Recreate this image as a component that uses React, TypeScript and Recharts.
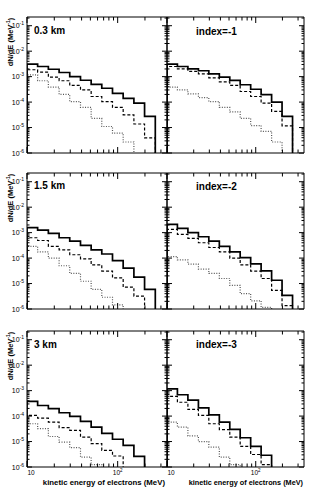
import React from 'react';
import { LineChart, Line, XAxis, YAxis } from 'recharts';

// ---------------- data ----------------
const BIN_EDGES = [10, 13.1, 17.2, 22.6, 29.6, 38.9, 51.0, 66.8, 87.7, 115, 151, 198, 260];
const X_DOMAIN: [number, number] = [10, 350];
const Y_DOMAIN: [number, number] = [1e-6, 0.22];
const X_MAJOR_TICKS = [10, 100];
const X_MAJOR_EXP = ['', '2'];
const X_MINOR_TICKS = [20, 30, 40, 50, 60, 70, 80, 90, 200, 300];
const Y_MAJOR_TICKS = [1e-6, 1e-5, 1e-4, 1e-3, 1e-2, 1e-1];
const Y_MAJOR_EXP = ['-6', '-5', '-4', '-3', '-2', '-1'];
const Y_MINOR_MANTISSA = [2, 3, 4, 5, 6, 7, 8, 9];

const PANEL_LABELS = ['0.3 km', 'index=-1', '1.5 km', 'index=-2', '3 km', 'index=-3'];
const Y_TITLE = 'dN/dE (MeV';
const Y_TITLE_EXP = '-1';
const X_TITLE = 'kinetic energy of electrons (MeV)';

const SOLID_03KM = [3.1e-3, 2.5e-3, 1.95e-3, 1.45e-3, 1.0e-3, 7.2e-4, 5.0e-4, 3.5e-4, 2.2e-4, 1.4e-4, 9.1e-5, 2.75e-5];
const DASHED_03KM = [1.86e-3, 1.51e-3, 9.5e-4, 6.9e-4, 4.5e-4, 3.0e-4, 1.66e-4, 1.05e-4, 6.2e-5, 3.16e-5, 1.38e-5, 3.9e-6];
const DOTTED_03KM = [1.17e-3, 6.9e-4, 3.9e-4, 2.0e-4, 1.05e-4, 6.2e-5, 2.3e-5, 1.1e-5, 6.0e-6, 2.7e-6, 0, 0];

const SOLID_IDX1 = [3.1e-3, 2.5e-3, 2.0e-3, 1.7e-3, 1.29e-3, 9.5e-4, 7.1e-4, 4.8e-4, 3.2e-4, 1.95e-4, 1.0e-4, 2.75e-5];
const DASHED_IDX1 = [2.5e-3, 2.0e-3, 1.6e-3, 1.29e-3, 8.9e-4, 6.2e-4, 4.5e-4, 2.6e-4, 1.66e-4, 9.1e-5, 4.3e-5, 1.17e-5];
const DOTTED_IDX1 = [3.9e-4, 3.0e-4, 2.1e-4, 1.5e-4, 1.05e-4, 6.2e-5, 4.1e-5, 2.3e-5, 1.2e-5, 7.1e-6, 2.7e-6, 0];

const SOLID_15KM = [1.58e-3, 1.26e-3, 9.3e-4, 6.3e-4, 4.6e-4, 3.16e-4, 2.1e-4, 1.45e-4, 7.9e-5, 4.0e-5, 1.8e-5, 5.9e-6];
const DASHED_15KM = [6.3e-4, 4.9e-4, 2.9e-4, 2.1e-4, 1.35e-4, 9.3e-5, 5.4e-5, 3.1e-5, 1.66e-5, 7.2e-6, 3.2e-6, 0];
const DOTTED_15KM = [2.9e-4, 1.74e-4, 1.0e-4, 5.0e-5, 2.5e-5, 1.23e-5, 5.9e-6, 2.9e-6, 1.45e-6, 0, 0, 0];

const SOLID_IDX2 = [2.1e-3, 1.48e-3, 1.0e-3, 6.9e-4, 4.6e-4, 2.9e-4, 1.74e-4, 1.05e-4, 5.9e-5, 3.16e-5, 1.35e-5, 3.4e-6];
const DASHED_IDX2 = [1.35e-3, 8.5e-4, 5.9e-4, 4.0e-4, 2.6e-4, 1.74e-4, 1.0e-4, 5.4e-5, 3.1e-5, 1.58e-5, 5.4e-6, 1.35e-6];
const DOTTED_IDX2 = [1.15e-4, 8.5e-5, 5.8e-5, 3.7e-5, 2.5e-5, 1.58e-5, 8.5e-6, 4.0e-6, 2.1e-6, 1.15e-6, 0, 0];

const SOLID_3KM = [3.8e-4, 2.6e-4, 1.95e-4, 1.35e-4, 9.8e-5, 6.2e-5, 3.7e-5, 2.1e-5, 1.23e-5, 7.1e-6, 2.6e-6, 0];
const DASHED_3KM = [1.07e-4, 8.3e-5, 5.8e-5, 3.5e-5, 2.75e-5, 1.5e-5, 8.3e-6, 4.5e-6, 2.7e-6, 0, 0, 0];
const DOTTED_3KM = [5.0e-5, 3.2e-5, 1.58e-5, 9.5e-6, 5.8e-6, 2.45e-6, 1.23e-6, 0, 0, 0, 0, 0];

const SOLID_IDX3 = [1.17e-3, 6.9e-4, 4.2e-4, 2.1e-4, 1.12e-4, 5.8e-5, 3.0e-5, 1.41e-5, 6.5e-6, 2.9e-6, 0, 0];
const DASHED_IDX3 = [5.9e-4, 3.5e-4, 1.82e-4, 1.07e-4, 5.0e-5, 2.95e-5, 1.5e-5, 6.5e-6, 3.1e-6, 1.23e-6, 0, 0];
const DOTTED_IDX3 = [5.8e-5, 3.7e-5, 1.66e-5, 1.0e-5, 6.0e-6, 2.45e-6, 1.23e-6, 0, 0, 0, 0, 0];

const PANEL_SERIES = [
  [SOLID_03KM, DASHED_03KM, DOTTED_03KM],
  [SOLID_IDX1, DASHED_IDX1, DOTTED_IDX1],
  [SOLID_15KM, DASHED_15KM, DOTTED_15KM],
  [SOLID_IDX2, DASHED_IDX2, DOTTED_IDX2],
  [SOLID_3KM, DASHED_3KM, DOTTED_3KM],
  [SOLID_IDX3, DASHED_IDX3, DOTTED_IDX3],
];

// ---------------- layout ----------------
const PAGE_W = 332;
const PAGE_H = 491;
const ROW_TOPS = [17, 173, 331];
const PLOT_H = 136;
const COL_LEFTS = [27, 167];
const COL_WIDTHS = [140, 137];
const FONT = '"Liberation Sans", Arial, Helvetica, sans-serif';

const FLOOR = 1e-9;
const NB = BIN_EDGES.length - 1;
const X_TICKS = [...X_MAJOR_TICKS, ...X_MINOR_TICKS];
const Y_MINOR_TICKS = Y_MAJOR_TICKS.flatMap((d) => Y_MINOR_MANTISSA.map((m) => m * d)).filter((v) => v < Y_DOMAIN[1]);
const Y_TICKS = [...Y_MAJOR_TICKS, ...Y_MINOR_TICKS];

function histRows(solid: number[], dashed: number[], dotted: number[]) {
  const v = (a: number[], i: number) => (a[i] > 0 ? a[i] : FLOOR);
  const rows: any[] = [{ x: BIN_EDGES[0], s: FLOOR, d: FLOOR, t: FLOOR }];
  for (let i = 0; i < NB; i++) rows.push({ x: BIN_EDGES[i], s: v(solid, i), d: v(dashed, i), t: v(dotted, i) });
  rows.push({ x: BIN_EDGES[NB], s: v(solid, NB - 1), d: v(dashed, NB - 1), t: v(dotted, NB - 1) });
  rows.push({ x: BIN_EDGES[NB], s: FLOOR, d: FLOOR, t: FLOOR });
  return rows;
}

function makeXTick(side: 'bottom' | 'top', showLabels: boolean) {
  return (props: any) => {
    const { x, y, payload } = props;
    const v = payload.value;
    const li = X_MAJOR_TICKS.indexOf(v);
    const major = li >= 0;
    const len = major ? 6 : 3.5;
    const dir = side === 'bottom' ? -1 : 1;
    const anchor = li === 0 ? 'start' : 'middle';
    return (
      <g>
        <line x1={x} y1={y} x2={x} y2={y + dir * len} stroke="#000" strokeWidth={1} />
        {showLabels && major && side === 'bottom' && (
          <text x={li === 0 ? x + 0.5 : x} y={y + 7.5} textAnchor={anchor} fontSize={6.5} fontFamily={FONT} fill="#000">
            10
            {X_MAJOR_EXP[li] ? (
              <tspan dy={-2.5} fontSize={4.5}>
                {X_MAJOR_EXP[li]}
              </tspan>
            ) : null}
          </text>
        )}
      </g>
    );
  };
}

function makeYTick(side: 'left' | 'right', showLabels: boolean) {
  return (props: any) => {
    const { x, y, payload } = props;
    const v = payload.value;
    const li = Y_MAJOR_TICKS.indexOf(v);
    const major = li >= 0;
    const len = major ? 5 : 2.5;
    const dir = side === 'left' ? 1 : -1;
    return (
      <g>
        <line x1={x} y1={y} x2={x + dir * len} y2={y} stroke="#000" strokeWidth={1} />
        {showLabels && major && side === 'left' && (
          <text x={x - 3} y={y + 2.5} textAnchor="end" fontSize={7} fontFamily={FONT} fill="#000">
            10
            <tspan dy={-3} fontSize={5}>
              {Y_MAJOR_EXP[li]}
            </tspan>
          </text>
        )}
      </g>
    );
  };
}

function Panel({ index }: { index: number }) {
  const row = Math.floor(index / 2);
  const col = index % 2;
  const [solid, dashed, dotted] = PANEL_SERIES[index];
  const data = histRows(solid, dashed, dotted);
  const left = COL_LEFTS[col];
  const top = ROW_TOPS[row];
  const margin = {
    left,
    right: PAGE_W - left - COL_WIDTHS[col],
    top,
    bottom: PAGE_H - top - PLOT_H,
  };
  const axisLine = { stroke: '#000', strokeWidth: 1 };
  return (
    <div style={{ position: 'absolute', left: 0, top: 0 }}>
      <LineChart width={PAGE_W} height={PAGE_H} data={data} margin={margin}>
        <XAxis
          xAxisId="b"
          dataKey="x"
          type="number"
          scale="log"
          domain={X_DOMAIN}
          allowDataOverflow
          ticks={X_TICKS}
          interval={0}
          orientation="bottom"
          mirror
          tickSize={0}
          tickMargin={0}
          tickLine={false}
          axisLine={axisLine}
          tick={makeXTick('bottom', row === 2)}
        />
        <XAxis
          xAxisId="t"
          dataKey="x"
          type="number"
          scale="log"
          domain={X_DOMAIN}
          allowDataOverflow
          ticks={X_TICKS}
          interval={0}
          orientation="top"
          mirror
          tickSize={0}
          tickMargin={0}
          tickLine={false}
          axisLine={axisLine}
          tick={makeXTick('top', false)}
        />
        <YAxis
          yAxisId="l"
          type="number"
          scale="log"
          domain={Y_DOMAIN}
          allowDataOverflow
          ticks={Y_TICKS}
          interval={0}
          orientation="left"
          mirror
          tickSize={0}
          tickMargin={0}
          tickLine={false}
          axisLine={axisLine}
          tick={makeYTick('left', col === 0)}
        />
        <YAxis
          yAxisId="r"
          type="number"
          scale="log"
          domain={Y_DOMAIN}
          allowDataOverflow
          ticks={Y_TICKS}
          interval={0}
          orientation="right"
          mirror
          tickSize={0}
          tickMargin={0}
          tickLine={false}
          axisLine={axisLine}
          tick={makeYTick('right', false)}
        />
        <Line
          xAxisId="b"
          yAxisId="l"
          dataKey="t"
          type="stepAfter"
          stroke="#555"
          strokeWidth={1.2}
          strokeDasharray="1 1.5"
          dot={false}
          activeDot={false}
          isAnimationActive={false}
        />
        <Line
          xAxisId="b"
          yAxisId="l"
          dataKey="d"
          type="stepAfter"
          stroke="#000"
          strokeWidth={1.2}
          strokeDasharray="3 2"
          dot={false}
          activeDot={false}
          isAnimationActive={false}
        />
        <Line
          xAxisId="b"
          yAxisId="l"
          dataKey="s"
          type="stepAfter"
          stroke="#000"
          strokeWidth={1.7}
          dot={false}
          activeDot={false}
          isAnimationActive={false}
        />
      </LineChart>
    </div>
  );
}

const LABEL_POS = [
  [34, 33.5],
  [196, 35],
  [34, 189],
  [196, 190],
  [34, 348],
  [196, 348],
];

export default function App() {
  return (
    <div style={{ position: 'absolute', left: 0, top: 0, width: PAGE_W, height: PAGE_H, background: '#fff' }}>
      {PANEL_SERIES.map((_, i) => (
        <Panel key={i} index={i} />
      ))}
      <svg width={PAGE_W} height={PAGE_H} style={{ position: 'absolute', left: 0, top: 0, pointerEvents: 'none' }}>
        {PANEL_LABELS.map((lab, i) => (
          <text key={lab} x={LABEL_POS[i][0]} y={LABEL_POS[i][1]} fontSize={10} fontWeight="bold" fontFamily={FONT} fill="#000">
            {lab}
          </text>
        ))}
        {ROW_TOPS.map((t) => (
          <text
            key={t}
            transform={`translate(12.5, ${t + 25}) rotate(-90)`}
            textAnchor="middle"
            fontSize={7.5}
            fontWeight="bold"
            fontFamily={FONT}
            fill="#000"
          >
            {Y_TITLE}
            <tspan dy={-3} fontSize={5}>
              {Y_TITLE_EXP}
            </tspan>
            <tspan dy={3}>)</tspan>
          </text>
        ))}
        {COL_LEFTS.map((l, c) => (
          <text
            key={l}
            x={l + COL_WIDTHS[c] - (c === 0 ? 2 : 1)}
            y={485}
            textAnchor="end"
            fontSize={c === 0 ? 7.8 : 7.3}
            fontWeight="bold"
            fontFamily={FONT}
            fill="#000"
          >
            {X_TITLE}
          </text>
        ))}
      </svg>
    </div>
  );
}
